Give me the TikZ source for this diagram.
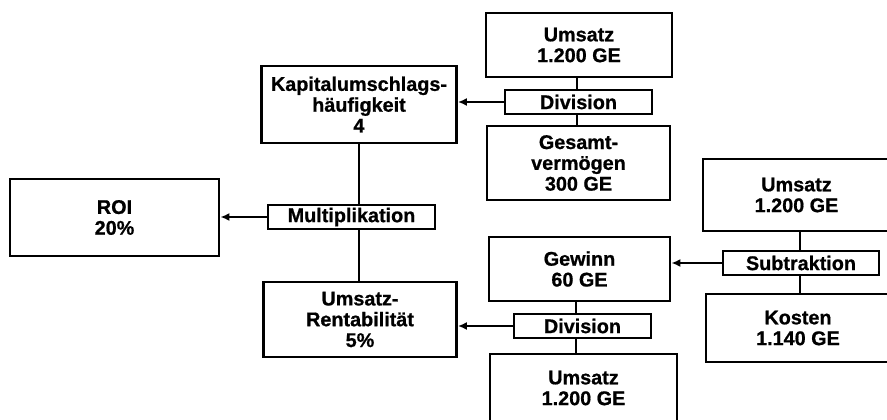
\documentclass[tikz,border=0pt]{standalone}
\usepackage{fontspec}
\setmainfont{Liberation Sans}[BoldFeatures={FakeBold=0.8}]
\usetikzlibrary{arrows.meta}
\begin{document}
\begin{tikzpicture}[x=1pt,y=-1pt,
  box/.style={draw, line width=2.8pt, inner sep=0pt, align=center, font=\bfseries\fontsize{19.8}{20.8}\selectfont},
  opbox/.style={draw, line width=2.2pt, inner sep=0pt, align=center, font=\bfseries\fontsize{19.8}{20.8}\selectfont, fill=white},
  conn/.style={line width=2.2pt},
  arr/.style={line width=2.2pt, -{Latex[length=9pt,width=8pt]}}]
\useasboundingbox (0,0) rectangle (887,420);
\clip (0,0) rectangle (887,420);
% result boxes
\node[box, minimum width=209pt, minimum height=77pt] (roi) at (114.5,217.5) {ROI\\20\%};
\node[box, minimum width=195pt, minimum height=77pt] (kap) at (359,104.5) {Kapitalumschlags-\\häufigkeit\\4};
\node[box, minimum width=193pt, minimum height=75pt] (rent) at (360,319.5) {Umsatz-\\Rentabilität\\5\%};
\node[box, minimum width=186pt, minimum height=64pt] (u1) at (579,45) {Umsatz\\1.200 GE};
\node[box, minimum width=183pt, minimum height=74pt] (ges) at (578.5,163) {Gesamt-\\vermögen\\300 GE};
\node[box, minimum width=181pt, minimum height=64pt] (gew) at (579.5,269) {Gewinn\\60 GE};
\node[box, minimum width=187pt, minimum height=68pt] (u3) at (583.5,388) {Umsatz\\1.200 GE};
\node[box, minimum width=187pt, minimum height=72pt] (u2) at (796.5,195) {Umsatz\\1.200 GE};
\node[box, minimum width=184pt, minimum height=68pt] (kos) at (798,328) {Kosten\\1.140 GE};
% operator boxes
\node[opbox, minimum width=167pt, minimum height=24pt] (mult) at (351.5,217) {Multiplikation};
\node[opbox, minimum width=147pt, minimum height=24pt] (div1) at (578.5,102) {Division};
\node[opbox, minimum width=156pt, minimum height=24pt] (sub) at (801,263) {Subtraktion};
\node[opbox, minimum width=137pt, minimum height=24pt] (div2) at (582.5,326) {Division};
% vertical connectors
\draw[conn] (kap.south) -- (kap.south |- mult.north);
\draw[conn] (kap.south |- mult.south) -- (rent.north -| kap.south);
\draw[conn] ([xshift=-2pt]u1.south) -- ([xshift=-2pt]u1.south |- div1.north);
\draw[conn] ([xshift=-2pt]u1.south |- div1.south) -- ([xshift=-2pt]u1.south |- ges.north);
\draw[conn] (sub.north -| 800,0) -- (u2.south -| 800,0);
\draw[conn] (sub.south -| 800,0) -- (kos.north -| 800,0);
\draw[conn] (gew.south -| 576,0) -- (div2.north -| 576,0);
\draw[conn] (div2.south -| 576,0) -- (u3.north -| 576,0);
% arrows
\draw[arr] (div1.west) -- (div1.west -| kap.east);
\draw[arr] (mult.west) -- (mult.west -| roi.east);
\draw[arr] (sub.west) -- (sub.west -| gew.east);
\draw[arr] (div2.west) -- (div2.west -| rent.east);
\end{tikzpicture}
\end{document}
